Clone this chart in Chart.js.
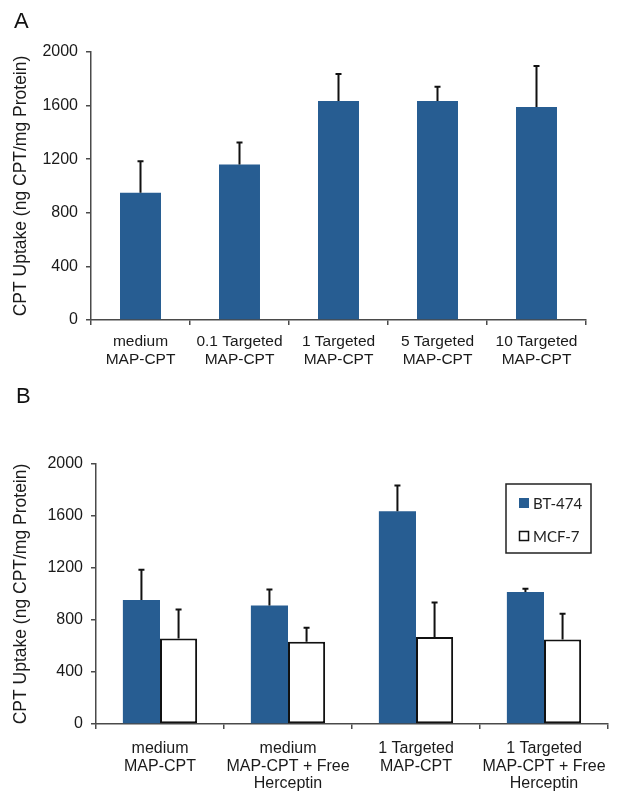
<!DOCTYPE html>
<html>
<head>
<meta charset="utf-8">
<script src="https://cdn.jsdelivr.net/npm/chart.js@4.4.1/dist/chart.umd.min.js"></script>
<style>
body { margin: 0; background: #fff; }
.panel { position: absolute; left: 0; width: 624px; }
#wrapA { top: 0; height: 375px; }
#wrapB { top: 375px; height: 428px; }
</style>
</head>
<body>
<div class="panel" id="wrapA"><canvas id="chartA"></canvas></div>
<div class="panel" id="wrapB"><canvas id="chartB"></canvas></div>
<script>
//Data
var labelsA = [['medium', 'MAP-CPT'], ['0.1 Targeted', 'MAP-CPT'], ['1 Targeted', 'MAP-CPT'], ['5 Targeted', 'MAP-CPT'], ['10 Targeted', 'MAP-CPT']];
var uptakeA = [950, 1160, 1635, 1635, 1590];
var sdA = [235, 165, 200, 105, 305];

var labelsB = [['medium', 'MAP-CPT'], ['medium', 'MAP-CPT + Free', 'Herceptin'], ['1 Targeted', 'MAP-CPT'], ['1 Targeted', 'MAP-CPT + Free', 'Herceptin']];
var bt474 = [953, 911, 1636, 1015];
var bt474Sd = [233, 124, 198, 25];
var mcf7 = [657, 632, 670, 650];
var mcf7Sd = [223, 108, 265, 198];

var yTitle = 'CPT Uptake (ng CPT/mg Protein)';
var FONT = '"Liberation Sans", Arial, sans-serif';
var BLUE = '#275d92';
var AXIS = '#4a4a4a';

//Upward error bars from bar tops
var errorBars = {
	id: 'errorBars',
	afterDatasetsDraw: function(chart, args, opts) {
		var ctx = chart.ctx;
		var y = chart.scales.y;
		chart.data.datasets.forEach(function(ds, i) {
			var meta = chart.getDatasetMeta(i);
			var errs = opts.errors[i];
			meta.data.forEach(function(bar, j) {
				var top = y.getPixelForValue(ds.data[j] + errs[j]);
				ctx.save();
				ctx.strokeStyle = '#111';
				ctx.lineWidth = 2;
				ctx.beginPath();
				ctx.moveTo(bar.x, bar.y);
				ctx.lineTo(bar.x, top);
				ctx.moveTo(bar.x - 3, top);
				ctx.lineTo(bar.x + 3, top);
				ctx.stroke();
				ctx.restore();
			});
		});
	}
};

//Panel letter in the corner
var panelLetter = {
	id: 'panelLetter',
	afterDraw: function(chart, args, opts) {
		var ctx = chart.ctx;
		ctx.save();
		ctx.fillStyle = '#111';
		ctx.font = '22px ' + FONT;
		ctx.textBaseline = 'alphabetic';
		ctx.fillText(opts.text, opts.x, opts.y);
		ctx.restore();
	}
};

//Boxed legend inside the plot
var boxLegend = {
	id: 'boxLegend',
	afterDraw: function(chart, args, opts) {
		if (!opts.show) return;
		var ctx = chart.ctx;
		var area = chart.chartArea;
		var bx = area.right - 102, by = area.top + 20, bw = 85, bh = 69;
		ctx.save();
		ctx.strokeStyle = '#222';
		ctx.lineWidth = 1.5;
		ctx.strokeRect(bx, by, bw, bh);
		ctx.font = '15px Lato, "Open Sans", sans-serif';
		ctx.textBaseline = 'middle';
		chart.data.datasets.forEach(function(ds, i) {
			var cy = by + 19 + i * 33;
			ctx.fillStyle = ds.backgroundColor;
			ctx.fillRect(bx + 13, cy - 5, 10, 10);
			if (ds.borderWidth) {
				ctx.strokeStyle = '#111';
				ctx.lineWidth = 1.5;
				ctx.strokeRect(bx + 13.5, cy - 4.5, 9, 9);
			}
			ctx.fillStyle = '#222';
			ctx.fillText(ds.label, bx + 27, cy + 1);
		});
		ctx.restore();
	}
};

function makeScales(yWidth, xHeight, xFont, xLine, xPad) {
	return {
		x: {
			afterFit: function(s) { s.height = xHeight; },
			grid: {
				offset: true,
				drawOnChartArea: false,
				drawTicks: true,
				tickLength: 5,
				color: AXIS,
				lineWidth: 1.5
			},
			border: { color: AXIS, width: 1.5 },
			ticks: {
				color: '#1a1a1a',
				padding: xPad,
				maxRotation: 0,
				autoSkip: false,
				font: { family: FONT, size: xFont, lineHeight: xLine }
			}
		},
		y: {
			min: 0,
			max: 2000,
			afterFit: function(s) { s.width = yWidth; },
			grid: {
				drawOnChartArea: false,
				tickLength: 5,
				color: AXIS,
				lineWidth: 1.5
			},
			border: { color: AXIS, width: 1.5 },
			ticks: {
				stepSize: 400,
				color: '#1a1a1a',
				padding: 8,
				font: { family: FONT, size: 16 },
				callback: function(v) { return String(v); }
			},
			title: {
				display: true,
				text: yTitle,
				color: '#1a1a1a',
				padding: { top: 11, bottom: 0 },
				font: { family: FONT, size: 17.5 }
			}
		}
	};
}

//Panel A
var chartA = new Chart(document.getElementById('chartA'), {
	type: 'bar',
	data: {
		labels: labelsA,
		datasets: [{
			label: 'BT-474',
			data: uptakeA,
			backgroundColor: BLUE,
			borderWidth: 0,
			categoryPercentage: 0.414,
			barPercentage: 1
		}]
	},
	options: {
		responsive: true,
		maintainAspectRatio: false,
		animation: false,
		layout: { padding: { left: 0, right: 38, top: 52, bottom: 0 } },
		scales: makeScales(91, 55, 15.5, 1.17, 8),
		plugins: {
			legend: { display: false },
			tooltip: { enabled: false },
			errorBars: { errors: [sdA] },
			panelLetter: { text: 'A', x: 14, y: 28 },
			boxLegend: { show: false }
		}
	},
	plugins: [errorBars, panelLetter, boxLegend]
});

//Panel B
var chartB = new Chart(document.getElementById('chartB'), {
	type: 'bar',
	data: {
		labels: labelsB,
		datasets: [{
			label: 'BT-474',
			data: bt474,
			backgroundColor: BLUE,
			borderWidth: 0,
			categoryPercentage: 0.58,
			barPercentage: 1
		}, {
			label: 'MCF-7',
			data: mcf7,
			backgroundColor: '#ffffff',
			borderColor: '#111',
			borderWidth: 2,
			borderSkipped: false,
			categoryPercentage: 0.58,
			barPercentage: 1
		}]
	},
	options: {
		responsive: true,
		maintainAspectRatio: false,
		animation: false,
		layout: { padding: { left: 0, right: 16, top: 89, bottom: 0 } },
		scales: makeScales(96, 79, 16, 1.1, 11),
		plugins: {
			legend: { display: false },
			tooltip: { enabled: false },
			errorBars: { errors: [bt474Sd, mcf7Sd] },
			panelLetter: { text: 'B', x: 16, y: 28 },
			boxLegend: { show: true }
		}
	},
	plugins: [errorBars, panelLetter, boxLegend]
});
</script>
</body>
</html>
